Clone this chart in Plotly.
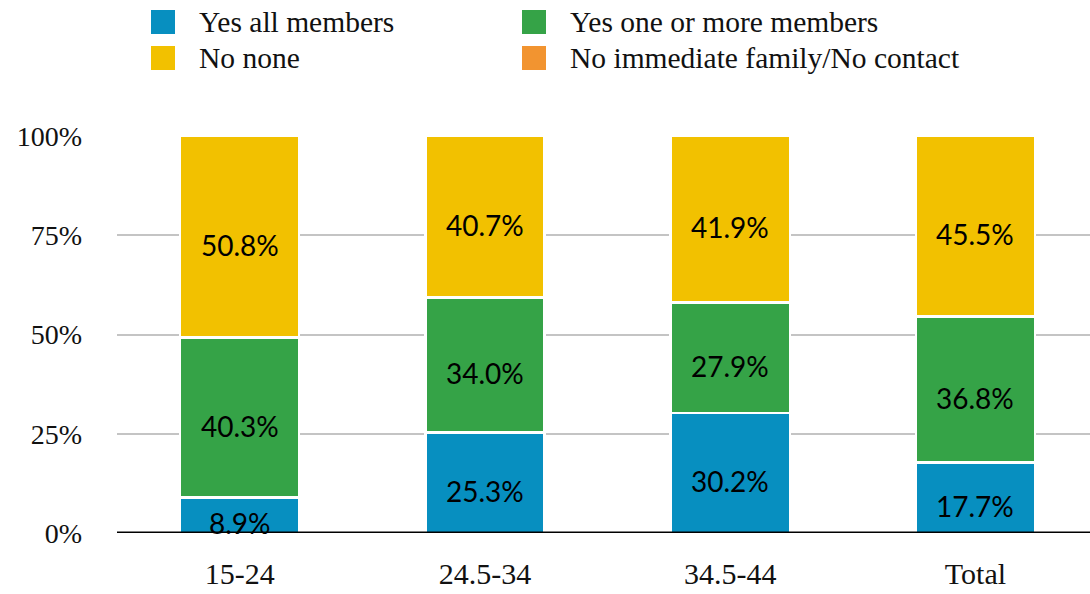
import plotly.graph_objects as go
import numpy as np

# Age groups and share of respondents (percent) per answer
categories = ["15-24", "24.5-34", "34.5-44", "Total"]
series_names = ["Yes all members", "Yes one or more members", "No none",
                "No immediate family/No contact"]
yes_all = [8.9, 25.3, 30.2, 17.7]
yes_some = [40.3, 34.0, 27.9, 36.8]
no_none = [50.8, 40.7, 41.9, 45.5]
no_family = [0.0, 0.0, 0.0, 0.0]
y_ticks = [0, 25, 50, 75, 100]
y_tick_text = ["0%", "25%", "50%", "75%", "100%"]

colors = ["#078FC0", "#35A347", "#F2C100", "#F29430"]
values = [yes_all, yes_some, no_none, no_family]

SERIF = "Liberation Serif"
SANS = "Lato"

fig = go.Figure()
for name, vals, col in zip(series_names, values, colors):
    fig.add_trace(go.Bar(
        x=categories, y=vals, name=name,
        marker=dict(color=col, line=dict(color="white", width=2.5)),
        width=0.486, showlegend=False, hoverinfo="skip",
    ))

# value labels placed in the middle of each segment
annotations = []
base = np.zeros(len(categories))
for vals in values:
    v = np.array(vals)
    for i, cat in enumerate(categories):
        if v[i] > 0:
            annotations.append(dict(
                x=cat, y=base[i] + v[i] / 2, xref="x", yref="y",
                text=f"{v[i]:.1f}%", showarrow=False, yshift=-8,
                font=dict(family=SANS, size=28, color="#000000"),
            ))
    base += v

# legend drawn as squares + labels in two columns
shapes = []
legend_pos = [(151, 22), (522, 22), (151, 58), (522, 58)]
W, H = 1090, 594
for (lx, ly), name, col in zip(legend_pos, series_names, colors):
    shapes.append(dict(
        type="rect", xref="paper", yref="paper",
        x0=(lx - 117) / (W - 117), x1=(lx + 24 - 117) / (W - 117),
        y0=(533 - (ly + 12)) / (533 - 136), y1=(533 - (ly - 12)) / (533 - 136),
        fillcolor=col, line=dict(width=0),
    ))
    annotations.append(dict(
        x=(lx + 46 - 117) / (W - 117), y=(533 - ly) / (533 - 136),
        xref="paper", yref="paper", xanchor="left", yanchor="middle",
        text=name, showarrow=False,
        font=dict(family=SERIF, size=29.5, color="#111111"),
    ))

# baseline at 0%
shapes.append(dict(type="line", xref="paper", yref="y", x0=0, x1=1, y0=0, y1=0,
                   line=dict(color="#000000", width=3)))

fig.update_layout(
    barmode="stack",
    width=W, height=H,
    margin=dict(l=117, r=0, t=136, b=61),
    plot_bgcolor="white", paper_bgcolor="white",
    annotations=annotations, shapes=shapes,
    xaxis=dict(
        range=[-0.5, 3.467], showgrid=False, zeroline=False, showline=False,
        tickfont=dict(family=SERIF, size=30, color="#111111"),
        ticklabelstandoff=20,
    ),
    yaxis=dict(
        range=[0, 100], tickvals=y_ticks, ticktext=y_tick_text,
        showgrid=True, gridcolor="#C4C4C4", gridwidth=2,
        zeroline=False, showline=False,
        tickfont=dict(family=SERIF, size=28, color="#111111"),
        ticklabelstandoff=34,
    ),
    bargap=0.5,
)

fig.write_html("out.html")
